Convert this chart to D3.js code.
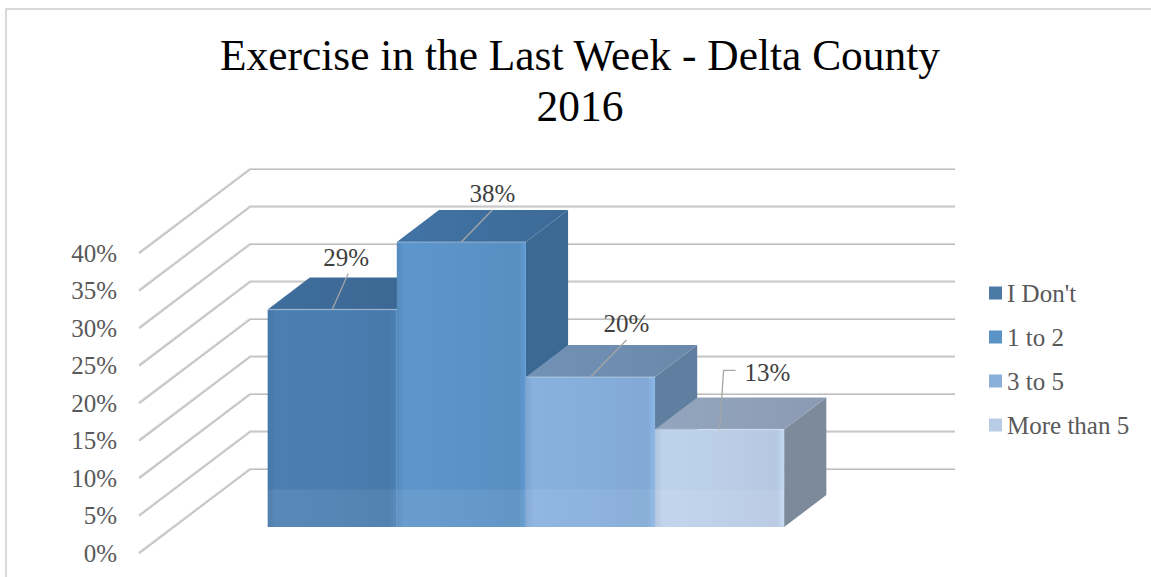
<!DOCTYPE html>
<html>
<head>
<meta charset="utf-8">
<script src="https://cdn.jsdelivr.net/npm/d3@7"></script>
<style>
  html, body { margin: 0; padding: 0; background: #ffffff; }
  svg { display: block; }
</style>
</head>
<body>
<svg id="chart" width="1151" height="577"></svg>
<script>
// ---- data ----
const categories = ["I Don't", "1 to 2", "3 to 5", "More than 5"];
const values = [0.29, 0.38, 0.20, 0.13];
const valueLabels = ["29%", "38%", "20%", "13%"];
const yTicks = [0, 0.05, 0.10, 0.15, 0.20, 0.25, 0.30, 0.35, 0.40];
const titleLines = ["Exercise in the Last Week - Delta County", "2016"];

// ---- styles / layout ----
const frontColors = ["#4A7DB0", "#5B93C7", "#86AEDB", "#BACEE8"];
const topColors   = ["#3D6A97", "#3F6F9E", "#6E8DB0", "#8FA0B8"];
const sideColors  = ["#36618C", "#3C6894", "#5F7EA0", "#7D8A9C"];
const legendColors = ["#4A7AA5", "#5A93C6", "#8AAFD8", "#B8CDE5"];
// label offsets relative to bar's front-top centre: [leader end dx, dy, label dx, dy]
const labelLayout = [
  {lx: 16, ly: -36, tx: 14, ty: -52, anchor: "middle", elbow: 0},
  {lx: 31, ly: -32, tx: 31, ty: -49, anchor: "middle", elbow: 0},
  {lx: 36, ly: -37, tx: 36, ty: -54, anchor: "middle", elbow: 0},
  {lx: 4,  ly: -59, tx: 25, ty: -57, anchor: "start",  elbow: 12}
];

const svg = d3.select("#chart");
const font = "'Liberation Serif', 'Times New Roman', serif";
const textColor = "#595959";

// chart border
svg.append("rect").attr("x", 6).attr("y", 9).attr("width", 1160).attr("height", 600)
  .attr("fill", "none").attr("stroke", "#D9D9D9").attr("stroke-width", 2);

// title
svg.append("g").selectAll("text").data(titleLines).join("text")
  .attr("x", 580).attr("y", (d, i) => 70 + i * 51)
  .attr("text-anchor", "middle")
  .attr("font-family", font).attr("font-size", 43.4)
  .attr("fill", "#000")
  .text(d => d);

// ---- 3D projection ----
const originX = 139;
const plotW = 705;
const depthDX = 111, depthDY = -84;
const yFront = d3.scaleLinear().domain([0, 0.40]).range([553, 253]);
const xBand = d3.scaleBand().domain(categories).range([0, plotW])
  .paddingInner(0).paddingOuter(0.73);
const proj = (u, v, t) => [originX + u + depthDX * t, yFront(v) + depthDY * t];
const t0 = 0.31, t1 = 0.69;

// gridlines: diagonal side wall + back wall
const grid = svg.append("g");
yTicks.forEach(v => {
  const a = proj(0, v, 0), b = proj(0, v, 1), c = proj(plotW, v, 1);
  grid.append("path")
    .attr("d", d3.line()([a, b, c]))
    .attr("fill", "none").attr("stroke", "#BDBDBD").attr("stroke-width", 2.2);
  grid.append("path")
    .attr("d", d3.line()([[a[0], a[1] - 0.6], [b[0], b[1] - 0.6], [c[0], c[1] - 0.6]]))
    .attr("fill", "none").attr("stroke", "#E6E6E6").attr("stroke-width", 0.8);
});

// y axis labels
svg.append("g").selectAll("text").data(yTicks).join("text")
  .attr("x", 117).attr("y", d => yFront(d))
  .attr("dy", "0.35em").attr("text-anchor", "end")
  .attr("font-family", font).attr("font-size", 25).attr("fill", textColor)
  .text(d => d3.format(".0%")(d));

// gradients
const defs = svg.append("defs");
categories.forEach((c, i) => {
  const g = defs.append("linearGradient").attr("id", "front" + i)
    .attr("x1", 0).attr("x2", 1).attr("y1", 0).attr("y2", 0);
  const base = d3.color(frontColors[i]);
  g.append("stop").attr("offset", "0%").attr("stop-color", base.darker(0.15));
  g.append("stop").attr("offset", "6%").attr("stop-color", base.brighter(0.05));
  g.append("stop").attr("offset", "50%").attr("stop-color", base);
  g.append("stop").attr("offset", "94%").attr("stop-color", base.darker(0.08));
  g.append("stop").attr("offset", "100%").attr("stop-color", base.brighter(0.15));
  const gt = defs.append("linearGradient").attr("id", "top" + i)
    .attr("x1", 0).attr("x2", 1).attr("y1", 0).attr("y2", 0);
  const tb = d3.color(topColors[i]);
  gt.append("stop").attr("offset", "0%").attr("stop-color", tb.brighter(0.1));
  gt.append("stop").attr("offset", "100%").attr("stop-color", tb.darker(0.1));
});

// bars
const bars = svg.append("g");
categories.forEach((c, i) => {
  const u0 = xBand(c), u1 = xBand(c) + xBand.bandwidth();
  const v = values[i];
  const front = [proj(u0, 0, t0), proj(u1, 0, t0), proj(u1, v, t0), proj(u0, v, t0)];
  const top = [proj(u0, v, t0), proj(u1, v, t0), proj(u1, v, t1), proj(u0, v, t1)];
  const side = [proj(u1, 0, t0), proj(u1, 0, t1), proj(u1, v, t1), proj(u1, v, t0)];
  const poly = pts => "M" + pts.map(p => p.join(",")).join("L") + "Z";
  bars.append("path").attr("d", poly(side)).attr("fill", sideColors[i]);
  bars.append("path").attr("d", poly(top)).attr("fill", "url(#top" + i + ")");
  bars.append("path").attr("d", poly(front)).attr("fill", "url(#front" + i + ")");
  // floor reflection band on front face
  const band = [proj(u0, 0, t0), proj(u1, 0, t0), proj(u1, 0.05, t0), proj(u0, 0.05, t0)];
  bars.append("path").attr("d", poly(band)).attr("fill", "#ffffff").attr("opacity", 0.07);
  // subtle light edge on front-top
  bars.append("path").attr("d", d3.line()([proj(u0, v, t0), proj(u1, v, t0)]))
    .attr("stroke", "#ffffff").attr("stroke-opacity", 0.25).attr("stroke-width", 1.5);
});

// data labels with leader lines
const lab = svg.append("g");
categories.forEach((c, i) => {
  const u = xBand(c) + xBand.bandwidth() / 2;
  const p = proj(u, values[i], t0);
  const L = labelLayout[i];
  const pts = [p, [p[0] + L.lx, p[1] + L.ly]];
  if (L.elbow) pts.push([p[0] + L.lx + L.elbow, p[1] + L.ly]);
  lab.append("path").attr("d", d3.line()(pts))
    .attr("fill", "none").attr("stroke", "#A6A6A6").attr("stroke-width", 1.3);
  lab.append("text")
    .attr("x", p[0] + L.tx).attr("y", p[1] + L.ty)
    .attr("dy", "0.35em").attr("text-anchor", L.anchor)
    .attr("font-family", font).attr("font-size", 25).attr("fill", "#404040")
    .text(valueLabels[i]);
});

// legend
const legend = svg.append("g").selectAll("g").data(categories).join("g")
  .attr("transform", (d, i) => `translate(989, ${293 + i * 44})`);
legend.append("rect").attr("x", 0).attr("y", -6.5).attr("width", 13).attr("height", 13)
  .attr("fill", (d, i) => legendColors[i]);
legend.append("text").attr("x", 18).attr("y", 0).attr("dy", "0.35em")
  .attr("font-family", font).attr("font-size", 25).attr("fill", textColor)
  .text(d => d);
</script>
</body>
</html>
